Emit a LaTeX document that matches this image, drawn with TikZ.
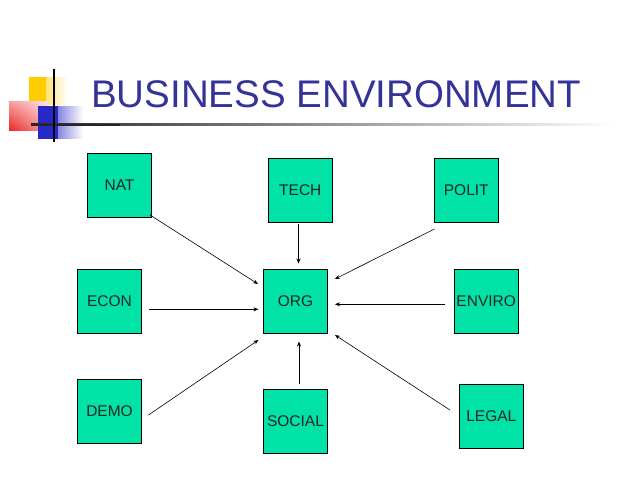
\documentclass[tikz,border=0pt]{standalone}
\usepackage{fontspec}
\setmainfont{Liberation Sans}
\usetikzlibrary{arrows.meta,fadings,shadings}
\definecolor{boxgreen}{RGB}{0,226,166}
\definecolor{titleblue}{RGB}{51,51,153}
\definecolor{decoyellow}{RGB}{255,204,0}
\definecolor{decored}{RGB}{236,40,40}
\definecolor{decoblue}{RGB}{40,40,200}
\begin{document}
\begin{tikzpicture}[x=1pt,y=-1pt,
  envbox/.style={draw=black,line width=0.7pt,fill=boxgreen,minimum width=64pt,minimum height=64pt,inner sep=0pt,font=\fontsize{15.5}{18}\selectfont,text=black!85},
  flow/.style={line width=0.6pt,-{Stealth[length=5pt,width=4pt]}}]
\useasboundingbox (0,0) rectangle (638,479);
\fill[white] (0,0) rectangle (638,479);
% decoration
\fill[decoyellow,path fading=east] (29,77) rectangle (67,105);
\fill[decoyellow] (29,77) rectangle (46,105);
\shade[lower left=decored,upper left=decored!45,lower right=decored!45,upper right=decored!12] (9,101) rectangle (48,130);
\fill[decoblue,path fading=east] (38,106) rectangle (83,139);
\fill[decoblue] (38,106) rectangle (58,139);
\shade[left color=black!85,right color=white] (31,123.5) rectangle (615,125.5);
\fill[black!85] (31,123.5) rectangle (120,125.5);
\draw[black,line width=1.4pt] (54,69) -- (54,142);
\node[anchor=base west,inner sep=0pt,text=titleblue,font=\fontsize{38.5}{44}\selectfont] (title) at (91,107) {BUSINESS ENVIRONMENT};
% boxes
\node[envbox] (nat) at (119.5,185.3) {NAT};
\node[envbox] (tech) at (300.3,190.3) {TECH};
\node[envbox] (polit) at (466.3,190.3) {POLIT};
\node[envbox] (econ) at (109.5,301.3) {ECON};
\node[envbox] (org) at (295.5,301.3) {ORG};
\node[envbox] (enviro) at (486.2,301.3) {ENVIRO};
\node[envbox] (demo) at (109.5,411.2) {DEMO};
\node[envbox] (social) at (295.5,421.3) {SOCIAL};
\node[envbox] (legal) at (491.3,416.3) {LEGAL};
% connector ends
\coordinate (natS) at (150,215);   \coordinate (natT) at (258,284);
\coordinate (techS) at (298.5,224); \coordinate (techT) at (298.5,263.5);
\coordinate (politS) at (434.5,229); \coordinate (politT) at (335,279);
\coordinate (econS) at (148.5,309.3); \coordinate (econT) at (258.5,309.3);
\coordinate (enviroS) at (445,304.3); \coordinate (enviroT) at (335,304.3);
\coordinate (demoS) at (148.5,415); \coordinate (demoT) at (258.5,340);
\coordinate (socialS) at (299,384.3); \coordinate (socialT) at (299,341.5);
\coordinate (legalS) at (450,410); \coordinate (legalT) at (335,335);
\draw[flow] (natS) -- (natT);
\draw[flow] (techS) -- (techT);
\draw[flow] (politS) -- (politT);
\draw[flow] (econS) -- (econT);
\draw[flow] (enviroS) -- (enviroT);
\draw[flow] (demoS) -- (demoT);
\draw[flow] (socialS) -- (socialT);
\draw[flow] (legalS) -- (legalT);
\end{tikzpicture}
\end{document}
